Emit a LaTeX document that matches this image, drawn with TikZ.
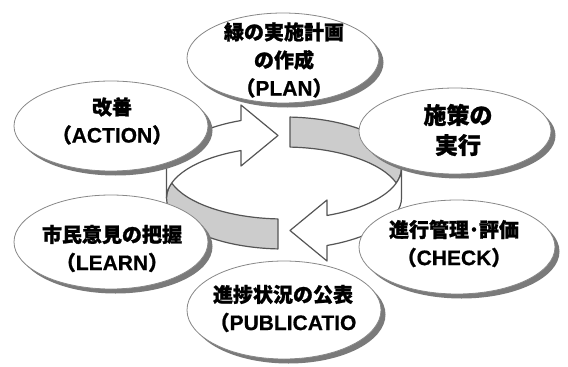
\documentclass[tikz,border=0pt]{standalone}
\usepackage{fontspec}
\setmainfont{Noto Sans CJK JP}[BoldFeatures={FakeBold=1.2}]
\newfontfamily\latfont{Liberation Sans}[BoldFeatures={FakeBold=0.6}]
\usetikzlibrary{shapes.geometric,shadows}
\definecolor{ringline}{HTML}{555555}
\definecolor{ringfill}{HTML}{CCCCCC}
\definecolor{bubbleline}{HTML}{888888}
\definecolor{shadowgray}{HTML}{7A7A7A}
\newcommand{\lat}[1]{{\latfont\fontsize{21}{28}\selectfont #1}}
\begin{document}
\begin{tikzpicture}[x=1pt,y=-1pt,
  bubble/.style={ellipse, draw=bubbleline, line width=0.8pt, fill=white, inner sep=0pt,
    general shadow={shadow xshift=4.5pt, shadow yshift=-4.5pt, fill=shadowgray}},
  lbl/.style={align=center, font=\bfseries\fontsize{20}{28}\selectfont, inner sep=0pt},
  biglbl/.style={align=center, font=\bfseries\fontsize{23}{30}\selectfont, inner sep=0pt},
  ringpart/.style={draw=ringline, line width=1.2pt, line join=round},
  ell/.style={x radius=117.5pt, y radius=51pt}
]
\useasboundingbox (0,0) rectangle (568,367);
% ring: right half (clockwise arrow)
\path[ringpart, fill=ringfill] (290,117.07) arc[ell, start angle=87.073, end angle=-17.104]
  arc[ell, start angle=17.104, end angle=87.073] -- cycle;
\path[ringpart, fill=white] (401.5,168) arc[ell, start angle=0, end angle=-68.533]
  -- (327,200) -- (290,230.5) -- (327,261) -- (327,245.46)
  arc[ell, start angle=-68.533, end angle=0] -- cycle;
% ring: left half
\path[ringpart, fill=ringfill] (278,248.93) arc[ell, start angle=267.073, end angle=162.896]
  arc[ell, start angle=197.104, end angle=267.073] -- cycle;
\path[ringpart, fill=white] (166.5,198) arc[ell, start angle=180, end angle=111.467]
  -- (241,166) -- (278,135.5) -- (241,105) -- (241,120.54)
  arc[ell, start angle=111.467, end angle=180] -- cycle;
% bubbles
\node[bubble, minimum width=192pt, minimum height=90pt] (plan) at (283,58) {};
\node[bubble, minimum width=192pt, minimum height=86pt] (exec) at (455,131) {};
\node[bubble, minimum width=194pt, minimum height=90pt] (action) at (111,126) {};
\node[bubble, minimum width=194pt, minimum height=94pt] (learn) at (111,242) {};
\node[bubble, minimum width=196pt, minimum height=94pt] (check) at (457,247) {};
\node[bubble, minimum width=194pt, minimum height=98pt] (pub) at (284,310) {};
% labels
\node[lbl] (plantext) at (284,60) {緑の実施計画\\の作成\\（\lat{PLAN}）};
\node[biglbl] (exectext) at (458,130) {施策の\\実行};
\node[lbl] (actiontext) at (112,121) {改善\\（\lat{ACTION}）};
\node[lbl] (learntext) at (112,248.5) {市民意見の把握\\（\lat{LEARN}）};
\node[lbl] (checktext) at (454,243.5) {進行管理･評価\\（\lat{CHECK}）};
\node[lbl] (pubtext) at (283,308.5) {進捗状況の公表\\（\lat{PUBLICATIO}};
\end{tikzpicture}
\end{document}
